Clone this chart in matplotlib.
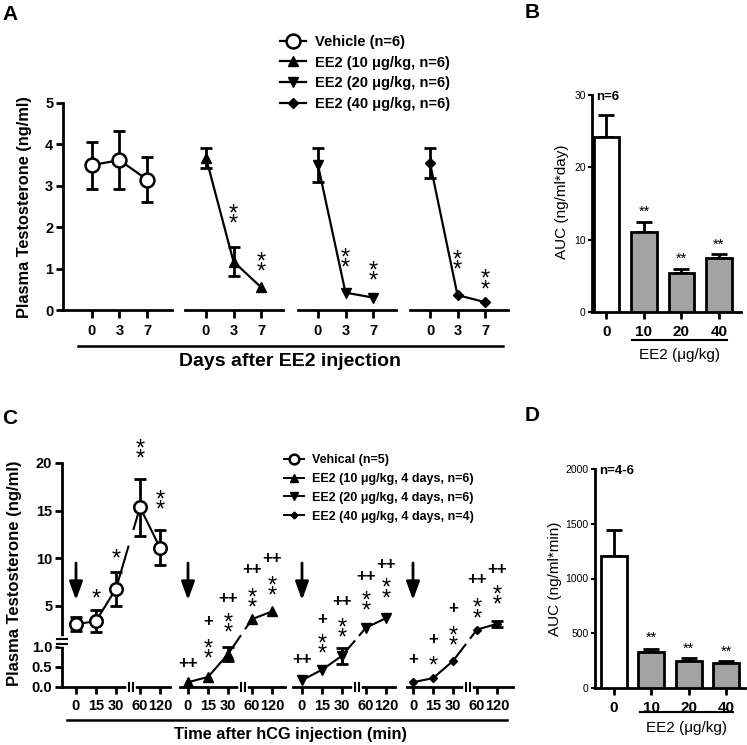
import numpy as np
import matplotlib
matplotlib.use('Agg')
import matplotlib.pyplot as plt
from matplotlib.lines import Line2D

plt.rcParams['font.family'] = ['Liberation Sans', 'DejaVu Sans']

W, H = 747, 745

# ---- panel A data (plasma T, days after EE2) ----
days = ['0', '3', '7']
a_veh = [3.5, 3.62, 3.15]
a_veh_err = [0.57, 0.7, 0.54]
a_ee10 = [3.68, 1.17, 0.55]
a_ee10_err = [0.24, 0.35, 0.0]
a_ee20 = [3.5, 0.42, 0.3]
a_ee20_err = [0.41, 0.0, 0.0]
a_ee40 = [3.55, 0.36, 0.19]
a_ee40_err = [0.36, 0.0, 0.0]
a_labels = ['Vehicle (n=6)', 'EE2 (10 \u03bcg/kg, n=6)',
            'EE2 (20 \u03bcg/kg, n=6)', 'EE2 (40 \u03bcg/kg, n=6)']
a_stars = [[], [(1, 2.35), (2, 1.2)], [(1, 1.3), (2, 0.97)], [(1, 1.25), (2, 0.77)]]

# ---- panel B data (AUC) ----
doses = ['0', '10', '20', '40']
b_auc = [24.2, 11.0, 5.4, 7.4]
b_err = [3.0, 1.4, 0.5, 0.6]
b_star_y = [None, 13.8, 7.3, 9.3]

# ---- panel C data (hCG challenge) ----
minutes = ['0', '15', '30', '60', '120']
c_veh = [3.05, 3.4, 6.8, 15.35, 11.1]
c_veh_err = [0.75, 1.2, 1.8, 3.0, 1.85]
c_ee10 = [0.12, 0.25, 0.82, 3.6, 4.4]
c_ee10_err = [0, 0, 0.17, 0, 0]
c_ee20 = [0.17, 0.43, 0.78, 2.7, 3.7]
c_ee20_err = [0, 0, 0.2, 0, 0]
c_ee40 = [0.12, 0.22, 0.65, 2.5, 3.1]
c_ee40_err = [0, 0, 0, 0, 0.3]
c_labels = ['Vehical (n=5)', 'EE2 (10 \u03bcg/kg, 4 days, n=6)',
            'EE2 (20 \u03bcg/kg, 4 days, n=6)', 'EE2 (40 \u03bcg/kg, 4 days, n=4)']
c_marks = [
    [(1, 6.4, '*'), (2, 10.6, '*'), (3, 21.6, '**'), (4, 16.3, '**')],
    [(0, 0.59, '++'), (1, 0.99, '**'), (1, 3.34, '+'), (2, 3.34, '**'), (2, 5.8, '++'),
     (3, 5.97, '**'), (3, 8.78, '++'), (4, 7.2, '**'), (4, 10.0, '++')],
    [(0, 0.69, '++'), (1, 1.13, '**'), (1, 3.52, '+'), (2, 2.82, '**'), (2, 5.45, '++'),
     (3, 5.63, '**'), (3, 8.08, '++'), (4, 6.96, '**'), (4, 9.3, '++')],
    [(0, 0.68, '+'), (1, 0.68, '*'), (1, 1.42, '+'), (2, 2.0, '**'), (2, 4.75, '+'),
     (3, 4.86, '**'), (3, 7.73, '++'), (4, 6.26, '**'), (4, 8.78, '++')],
]
arrow_top, arrow_tip = 9.5, 5.6

# ---- panel D data ----
d_auc = [1210, 330, 250, 226]
d_err = [235, 26, 27, 21]
d_star_y = [None, 457, 356, 329]

series_a = [(a_veh, a_veh_err), (a_ee10, a_ee10_err), (a_ee20, a_ee20_err), (a_ee40, a_ee40_err)]
series_c = [(c_veh, c_veh_err), (c_ee10, c_ee10_err), (c_ee20, c_ee20_err), (c_ee40, c_ee40_err)]
markers = ['o', '^', 'v', 'D']


def fx(x):
    return x / W


def fy(y):
    return 1 - y / H


def axes_px(x0, x1, ytop, ybot):
    return fig.add_axes([fx(x0), fy(ybot), (x1 - x0) / W, (ybot - ytop) / H])


def mstyle(i, big):
    if i == 0:
        return dict(marker='o', ms=10 if big else 9, mfc='white', mec='k', mew=1.8)
    ms = {'^': 7.5, 'v': 7.5, 'D': 5.5}[markers[i]]
    if not big:
        ms -= 1
    return dict(marker=markers[i], ms=ms, mfc='k', mec='k')


def fwd(y):
    y = np.asarray(y, dtype=float)
    return np.where(y <= 1.1, 40 * y, 44 + (y - 1.1) * 9.5)


def inv(h):
    h = np.asarray(h, dtype=float)
    return np.where(h <= 44, h / 40, 1.1 + (h - 44) / 9.5)


STAR_SIZE = 17


def star(ax, x, y, s, size=STAR_SIZE):
    if s == '**':
        # two asterisks stacked, one text object
        ax.annotate('*\n*', xy=(x, y), xytext=(0, -5), textcoords='offset points',
                    ha='center', va='center', fontsize=size, linespacing=0.3,
                    annotation_clip=False)
    elif s == '*':
        ax.annotate('*', xy=(x, y), xytext=(0, -0.55 * size), textcoords='offset points',
                    ha='center', va='baseline', fontsize=size, annotation_clip=False)
    else:
        ax.text(x, y, s, ha='center', va='center', fontsize=12, fontweight='bold', clip_on=False)


fig = plt.figure(figsize=(W / 100, H / 100), dpi=100)

# ================= panel A =================
a_boxes = [(63, 172, 92), (185, 283, 206), (298, 396, 318), (410, 508, 430)]
xa = np.arange(3)
for i, (x0, x1, zx) in enumerate(a_boxes):
    ax = axes_px(x0, x1, 103, 310)
    ax.set_xlim((x0 - zx) / 27.5, (x1 - zx) / 27.5)
    ax.set_ylim(0, 5)
    for s in ['top', 'right']:
        ax.spines[s].set_visible(False)
    ax.spines['bottom'].set_linewidth(2)
    ax.spines['left'].set_linewidth(2)
    if i > 0:
        ax.spines['left'].set_visible(False)
        ax.set_yticks([])
    else:
        ax.set_yticks(range(6))
        ax.set_yticklabels([str(v) for v in range(6)], fontweight='bold', fontsize=10.5)
        ax.tick_params(axis='y', length=5, width=2, pad=2)
    ax.set_xticks(xa)
    ax.set_xticklabels(days, fontweight='bold', fontsize=10.5)
    ax.tick_params(axis='x', length=6, width=2, pad=4)
    vals, err = series_a[i]
    vals = np.array(vals)
    err = np.array(err)
    ok = err > 0
    ax.errorbar(xa[ok], vals[ok], yerr=err[ok], fmt='none', ecolor='k',
                elinewidth=2, capsize=4.5, capthick=2, zorder=2, clip_on=False)
    ax.plot(xa, vals, color='k', lw=1.6, zorder=3, clip_on=False, **mstyle(i, True))
    for (sx, sy) in a_stars[i]:
        star(ax, sx, sy, '**')

fig.add_artist(Line2D([fx(78), fx(503)], [fy(346), fy(346)], color='k', lw=1.8))
fig.text(fx(290), fy(362), 'Days after EE2 injection', ha='center', va='center',
         fontsize=14, fontweight='bold')
fig.text(fx(25), fy(207), 'Plasma Testosterone (ng/ml)', rotation=90, ha='center',
         va='center', fontsize=11.8, fontweight='bold')

handles = [Line2D([], [], color='k', lw=1.6, **mstyle(i, True)) for i in range(4)]
fig.legend(handles, a_labels, loc='upper left', bbox_to_anchor=(fx(280), fy(35)),
           frameon=False, prop={'weight': 'bold', 'size': 10.5}, handlelength=1.8,
           handletextpad=0.6, labelspacing=0.45, borderaxespad=0, borderpad=0)


# ================= bar panels =================
def bar_panel(box, xl, vals, errs, ylim, yticks, star_y, ntext, ylabel, ylab_xy, line_y, line_x, eelab_y):
    x0, x1, ytop, ybot = box
    ax = axes_px(x0, x1, ytop, ybot)
    ax.set_xlim(*xl)
    ax.set_ylim(*ylim)
    for s in ['top', 'right']:
        ax.spines[s].set_visible(False)
    ax.spines['bottom'].set_linewidth(2)
    ax.spines['left'].set_linewidth(2)
    xb = np.arange(4)
    ax.errorbar(xb, vals, yerr=[np.zeros(4), errs], fmt='none', ecolor='k',
                elinewidth=2, capsize=5.5, capthick=2, zorder=2)
    ax.bar(xb, vals, width=0.69, color=['white', '#a3a3a3', '#a3a3a3', '#a3a3a3'],
           edgecolor='k', lw=2, zorder=3)
    ax.set_yticks(yticks)
    ax.set_yticklabels([str(v) for v in yticks], fontsize=7.5)
    ax.tick_params(axis='y', length=3, width=1.5, pad=1.5)
    ax.set_xticks(xb)
    ax.set_xticklabels(doses, fontweight='bold', fontsize=11)
    ax.tick_params(axis='x', length=5, width=2, pad=4)
    for j in range(4):
        if star_y[j] is not None:
            ax.text(j, star_y[j], '**', ha='center', va='center', fontsize=10.5)
    fig.text(fx(x0 + 4), fy(ytop + 2), ntext, ha='left', va='center', fontsize=9.5, fontweight='bold')
    fig.text(fx(ylab_xy[0]), fy(ylab_xy[1]), ylabel, rotation=90, ha='center', va='center', fontsize=11)
    fig.add_artist(Line2D([fx(line_x[0]), fx(line_x[1])], [fy(line_y), fy(line_y)], color='k', lw=1.5))
    fig.text(fx((line_x[0] + line_x[1]) / 2), fy(eelab_y), 'EE2 (\u03bcg/kg)', ha='center',
             va='center', fontsize=11)


bar_panel((592, 741, 95, 312), (-0.387, 3.59), b_auc, b_err, (0, 30), [0, 10, 20, 30],
          b_star_y, 'n=6', 'AUC (ng/ml*day)', (562, 202), 340, (632, 727), 355)
bar_panel((595, 745, 469, 688), (-0.51, 3.51), d_auc, d_err, (0, 2000), [0, 500, 1000, 1500, 2000],
          d_star_y, 'n=4-6', 'AUC (ng/ml*min)', (555, 579), 712, (640, 733), 728)

# ================= panel C =================
c_boxes = [(62, 170, 76), (180, 285, 188), (293, 395, 302), (407, 513, 413)]
xc = np.array([0, 1, 2, 3.2, 4.2])
xbreak, gap = 2.75, 0.13
for i, (x0, x1, zx) in enumerate(c_boxes):
    ax = axes_px(x0, x1, 463, 687)
    ax.set_yscale('function', functions=(fwd, inv))
    ax.set_xlim((x0 - zx) / 20, (x1 - zx) / 20)
    ax.set_ylim(0, 20)
    for s in ['top', 'right']:
        ax.spines[s].set_visible(False)
    ax.spines['bottom'].set_linewidth(2)
    ax.spines['left'].set_linewidth(2)
    if i > 0:
        ax.spines['left'].set_visible(False)
        ax.set_yticks([])
        ax.minorticks_off()
    else:
        yt = [0, 0.5, 1.0, 5, 10, 15, 20]
        ax.set_yticks(yt)
        ax.set_yticklabels(['0.0', '0.5', '1.0', '5', '10', '15', '20'], fontweight='bold', fontsize=10.5)
        ax.minorticks_off()
        ax.tick_params(axis='y', length=5, width=2, pad=2)
        # y axis break
        ax.plot([0, 0], [1.07, 1.5], color='white', lw=4, zorder=5, clip_on=False,
                transform=ax.get_yaxis_transform())
        for yb in [1.07, 1.5]:
            ax.plot([-0.05, 0.05], [yb, yb], color='k', lw=1.5, zorder=6, clip_on=False,
                    transform=ax.get_yaxis_transform())
    ax.set_xticks(xc)
    ax.set_xticklabels(minutes, fontweight='bold', fontsize=10.5)
    ax.tick_params(axis='x', length=5, width=2, pad=4)
    # x axis break
    ax.plot([xbreak - 0.1, xbreak + 0.1], [0, 0], color='white', lw=4, zorder=5, clip_on=False,
            transform=ax.get_xaxis_transform())
    for xbk in [xbreak - 0.1, xbreak + 0.1]:
        ax.plot([xbk, xbk], [-0.02, 0.02], color='k', lw=1.5, zorder=6, clip_on=False,
                transform=ax.get_xaxis_transform())

    vals, err = series_c[i]
    vals = np.array(vals, dtype=float)
    err = np.array(err, dtype=float)
    ok = err > 0
    ax.errorbar(xc[ok], vals[ok], yerr=err[ok], fmt='none', ecolor='k',
                elinewidth=2, capsize=4, capthick=2, zorder=2, clip_on=False)
    # connecting line, interrupted at the x break
    hv = fwd(vals)
    left = xc < xbreak
    xl_ = np.append(xc[left], xbreak - gap)
    yl_ = inv(np.interp(xl_, xc, hv))
    xr_ = np.insert(xc[~left], 0, xbreak + gap)
    yr_ = inv(np.interp(xr_, xc, hv))
    ax.plot(xl_, yl_, color='k', lw=1.5, zorder=2, clip_on=False)
    ax.plot(xr_, yr_, color='k', lw=1.5, zorder=2, clip_on=False)
    ax.plot(xc, vals, ls='none', zorder=3, clip_on=False, **mstyle(i, False))

    ax.annotate('', xy=(0, arrow_tip), xytext=(0, arrow_top),
                arrowprops=dict(arrowstyle='-|>,head_width=0.2,head_length=0.55',
                                mutation_scale=20, lw=2, color='k', shrinkA=0, shrinkB=0))
    for (mx, my, s) in c_marks[i]:
        star(ax, xc[mx], my, s)

fig.add_artist(Line2D([fx(67), fx(507)], [fy(720), fy(720)], color='k', lw=1.8))
fig.text(fx(291), fy(735), 'Time after hCG injection (min)', ha='center', va='center',
         fontsize=11.8, fontweight='bold')
fig.text(fx(15), fy(573), 'Plasma Testosterone (ng/ml)', rotation=90, ha='center',
         va='center', fontsize=12, fontweight='bold')

handles = [Line2D([], [], color='k', lw=1.4, **mstyle(i, False)) for i in range(4)]
for h in handles[1:]:
    h.set_markersize(h.get_markersize() - 1)
handles[0].set_markersize(7)
fig.legend(handles, c_labels, loc='upper left', bbox_to_anchor=(fx(284), fy(454)),
           frameon=False, prop={'weight': 'bold', 'size': 9}, handlelength=1.6,
           handletextpad=0.6, labelspacing=0.55, borderaxespad=0, borderpad=0)

# panel letters
for lab, (x, y) in zip('ABCD', [(10, 14), (532, 12), (10, 418), (532, 416)]):
    fig.text(fx(x), fy(y), lab, ha='center', va='center', fontsize=15, fontweight='bold')

fig.savefig('out.png', dpi=100)
